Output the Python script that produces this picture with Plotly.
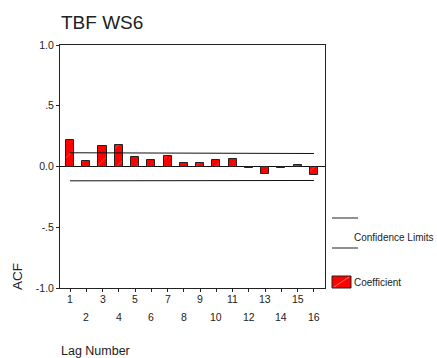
import plotly.graph_objects as go

lags = list(range(1, 17))
acf = [0.22, 0.047, 0.165, 0.18, 0.082, 0.055, 0.09, 0.025, 0.025, 0.055, 0.063, -0.01, -0.06, -0.015, 0.012, -0.066]
upper = [0.113, 0.113, 0.113, 0.112, 0.108, 0.108, 0.107, 0.107, 0.107, 0.107, 0.107, 0.107, 0.107, 0.107, 0.107, 0.107]
lower = [-0.118, -0.118, -0.118, -0.117, -0.115, -0.115, -0.115, -0.115, -0.115, -0.115, -0.115, -0.115, -0.115, -0.115, -0.115, -0.115]
ytick_vals = [-1.0, -0.5, 0.0, 0.5, 1.0]
ytick_text = ["-1.0", "-.5", "0.0", ".5", "1.0"]

FONT = "Liberation Sans, Arial, sans-serif"
TXT = "#222222"

W, H = 437, 358
L, R, T, B = 60, 112, 45, 70
pw, ph = W - L - R, H - T - B


def px(x):
    return (x - L) / pw


def py(y):
    return (H - B - y) / ph


fig = go.Figure()
fig.add_trace(go.Bar(
    x=lags, y=acf, width=0.5,
    marker=dict(color="#ff0000", line=dict(color="#222222", width=1),
                pattern=dict(shape="/", fgcolor="#ff6060", size=14, solidity=0.08)),
    showlegend=False,
))
fig.add_trace(go.Scatter(x=lags, y=upper, mode="lines", line=dict(color="#111111", width=1), showlegend=False))
fig.add_trace(go.Scatter(x=lags, y=lower, mode="lines", line=dict(color="#111111", width=1), showlegend=False))

annotations = []
for lag in lags:
    annotations.append(dict(
        x=lag, y=py(299) if lag % 2 == 1 else py(317), xref="x", yref="paper",
        text=str(lag), showarrow=False, xanchor="center", yanchor="middle",
        font=dict(family=FONT, size=10.5, color=TXT),
    ))
annotations += [
    dict(x=px(59), y=py(22), xref="paper", yref="paper", text="TBF WS6", showarrow=False,
         xanchor="left", yanchor="middle", font=dict(family=FONT, size=19, color=TXT)),
    dict(x=px(17), y=py(277), xref="paper", yref="paper", text="ACF", showarrow=False,
         textangle=-90, xanchor="center", yanchor="middle", font=dict(family=FONT, size=13.5, color=TXT)),
    dict(x=px(59), y=py(351), xref="paper", yref="paper", text="Lag Number", showarrow=False,
         xanchor="left", yanchor="middle", font=dict(family=FONT, size=12.5, color=TXT)),
    dict(x=px(352), y=py(237), xref="paper", yref="paper", text="Confidence Limits", showarrow=False,
         xanchor="left", yanchor="middle", font=dict(family=FONT, size=10, color=TXT)),
    dict(x=px(352), y=py(282), xref="paper", yref="paper", text="Coefficient", showarrow=False,
         xanchor="left", yanchor="middle", font=dict(family=FONT, size=10, color=TXT)),
]

shapes = [
    dict(type="line", xref="paper", yref="paper", x0=px(332), x1=px(358), y0=py(218), y1=py(218),
         line=dict(color="#222222", width=1)),
    dict(type="line", xref="paper", yref="paper", x0=px(332), x1=px(358), y0=py(248), y1=py(248),
         line=dict(color="#222222", width=1)),
    dict(type="rect", xref="paper", yref="paper", x0=px(332), x1=px(351), y0=py(288), y1=py(276),
         fillcolor="#ff0000", line=dict(color="#222222", width=1)),
    dict(type="line", xref="paper", yref="paper", x0=px(334), x1=px(349), y0=py(287), y1=py(277),
         line=dict(color="#ff7070", width=1)),
]

fig.update_layout(
    width=W, height=H,
    margin=dict(l=L, r=R, t=T, b=B),
    paper_bgcolor="white", plot_bgcolor="white",
    font=dict(family=FONT, size=10.5, color=TXT),
    annotations=annotations, shapes=shapes,
    bargap=0,
    xaxis=dict(range=[0.385, 16.68], tickvals=lags, ticktext=[""] * 16, ticks="outside", ticklen=3,
               tickcolor="#222222", showline=True, linecolor="#222222", linewidth=1, mirror=True,
               showgrid=False, zeroline=False, fixedrange=True),
    yaxis=dict(range=[-1.0, 1.0], tickvals=ytick_vals, ticktext=ytick_text, ticks="outside", ticklen=3,
               tickcolor="#222222", showline=True, linecolor="#222222", linewidth=1, mirror=True,
               showgrid=False, zeroline=True, zerolinecolor="#111111", zerolinewidth=1,
               tickfont=dict(family=FONT, size=10.5, color=TXT), fixedrange=True),
)

fig.write_html("out.html")
